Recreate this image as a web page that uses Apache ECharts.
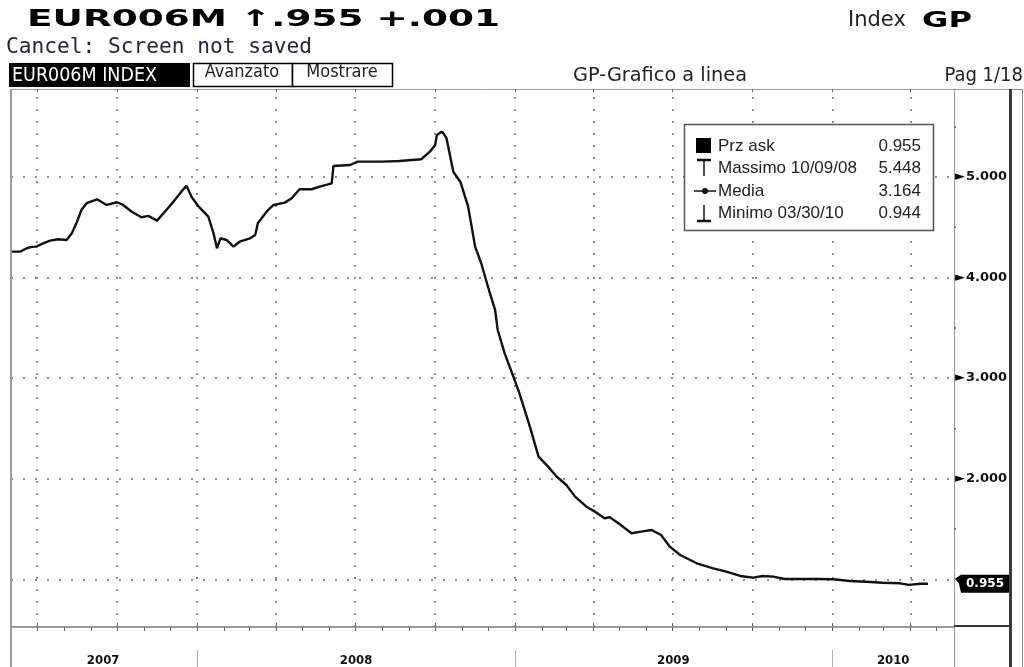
<!DOCTYPE html>
<html><head><meta charset="utf-8">
<script src="https://cdn.jsdelivr.net/npm/echarts@6/dist/echarts.min.js"></script>
<style>html,body{margin:0;padding:0;background:#fff}#c{width:1024px;height:667px}</style>
</head><body><div id="c"></div>
<script>
// ---------- data ----------
const dates = ['2007-06-01','2007-06-12','2007-06-19','2007-06-25','2007-06-30','2007-07-08','2007-07-16','2007-07-25','2007-08-04','2007-08-10','2007-08-16','2007-08-21','2007-08-27','2007-09-08','2007-09-19','2007-10-01','2007-10-08','2007-10-18','2007-10-29','2007-11-06','2007-11-16','2007-11-25','2007-12-05','2007-12-14','2007-12-20','2007-12-26','2008-01-03','2008-01-14','2008-01-20','2008-01-24','2008-01-28','2008-02-04','2008-02-12','2008-02-19','2008-03-02','2008-03-08','2008-03-11','2008-03-21','2008-03-29','2008-04-11','2008-04-19','2008-04-28','2008-05-12','2008-05-21','2008-06-04','2008-06-06','2008-06-25','2008-07-04','2008-08-02','2008-08-21','2008-09-15','2008-09-25','2008-10-01','2008-10-03','2008-10-09','2008-10-14','2008-10-22','2008-10-30','2008-11-08','2008-11-16','2008-11-23','2008-12-03','2008-12-09','2008-12-12','2008-12-20','2008-12-30','2009-01-06','2009-01-18','2009-01-28','2009-02-08','2009-02-18','2009-03-01','2009-03-11','2009-03-24','2009-04-03','2009-04-14','2009-04-20','2009-05-01','2009-05-15','2009-05-26','2009-06-07','2009-06-18','2009-06-28','2009-07-10','2009-07-29','2009-08-17','2009-09-01','2009-09-17','2009-10-02','2009-10-13','2009-10-25','2009-11-07','2009-11-25','2009-12-14','2010-01-02','2010-01-21','2010-02-09','2010-02-28','2010-03-20','2010-03-30','2010-04-12','2010-04-21'];
const values = [4.255,4.257,4.289,4.302,4.305,4.338,4.364,4.378,4.371,4.438,4.553,4.669,4.736,4.775,4.719,4.746,4.719,4.652,4.597,4.610,4.563,4.652,4.752,4.851,4.908,4.795,4.702,4.603,4.438,4.289,4.388,4.371,4.305,4.354,4.388,4.421,4.537,4.652,4.719,4.742,4.785,4.875,4.875,4.901,4.934,5.106,5.116,5.149,5.149,5.156,5.173,5.248,5.315,5.414,5.448,5.385,5.047,4.950,4.702,4.305,4.140,3.842,3.676,3.477,3.245,3.013,2.848,2.516,2.218,2.119,2.019,1.937,1.821,1.721,1.672,1.606,1.616,1.549,1.457,1.473,1.490,1.440,1.324,1.241,1.159,1.109,1.076,1.033,1.016,1.033,1.026,1.003,1.003,1.003,1.000,0.983,0.976,0.966,0.960,0.944,0.955,0.955];
const quarterLines = ['2007-07-01','2007-10-01','2008-01-01','2008-04-01','2008-07-01','2008-10-01','2009-01-01','2009-04-01','2009-07-01','2009-10-01','2010-01-01','2010-04-01'];
const yearLabels = ['2007','2008','2009','2010'];
const yearLabelDates = ['2007-09-15','2008-07-02','2009-07-02','2010-03-12'];
const yearBreaks = ['2008-01-01','2009-01-01','2010-01-01'];
const yGridValues = [1,2,3,4,5];
const yTickLabels = [2,3,4,5];
const yMinorTicks = [1.5,2.5,3.5,4.5,5.5];
const lastValue = 0.955;
const legendLabels = ['Prz ask','Massimo 10/09/08','Media','Minimo 03/30/10'];
const legendValues = ['0.955','5.448','3.164','0.944'];
const xStart = '2007-06-01', xEnd = '2010-05-21';
const yMin = 0.526, yMax = 5.871;

// ---------- helpers ----------
const ts = s => Date.parse(s + 'T00:00:00Z');
const monthTicks = [];
for (let y = 2007; y <= 2010; y++) for (let m = 1; m <= 12; m++) {
  const s = y + '-' + String(m).padStart(2,'0') + '-01';
  if (ts(s) > ts(xStart) && ts(s) < ts(xEnd)) monthTicks.push(ts(s));
}
const mctx = document.createElement('canvas').getContext('2d');
function fit(text, font, w){ mctx.font = font; return w / mctx.measureText(text).width; }
function txt(text, x, y, font, fill, align, w){
  const el = {type:'text', x:x, y:y, z:100, silent:true,
    style:{text:text, font:font, fill:fill, align:align||'left', textAlign:align||'left', verticalAlign:'middle', textVerticalAlign:'middle'}};
  if (w) el.scaleX = fit(text, font, w);
  return el;
}
function ln(x1,y1,x2,y2,color,w){
  return {type:'line', z:100, silent:true, shape:{x1:x1,y1:y1,x2:x2,y2:y2}, style:{stroke:color, lineWidth:w||1}};
}
function rc(x,y,w,h,fill,stroke,lw){
  return {type:'rect', z:100, silent:true, shape:{x:x,y:y,width:w,height:h}, style:{fill:fill, stroke:stroke||null, lineWidth:lw||0}};
}
const COND = '"DejaVu Sans Condensed","Liberation Sans Narrow","DejaVu Sans",sans-serif';
const SANS = '"Liberation Sans","Arial",sans-serif';

// ---------- graphic (header, frame, legend) ----------
const graphic = [
  txt('EUR006M \u2191.955 +.001', 27, 20, 'bold 23px "DejaVu Sans"', '#000', 'left', 473),
  txt('Index', 848, 21, '21px "DejaVu Sans"', '#222', 'left'),
  txt('GP', 922, 21, 'bold 22px "DejaVu Sans"', '#000', 'left', 50),
  txt('Cancel: Screen not saved', 6, 48, '21px "DejaVu Sans Mono",monospace', '#26263a', 'left', 306),
  rc(9, 63, 181, 24, '#000'),
  txt('EUR006M INDEX', 12, 75.5, '20px ' + COND, '#fff', 'left', 145),
  rc(193.5, 63.5, 99, 23, '#fff', '#000', 1.5),
  txt('Avanzato', 242, 72.5, '18px ' + COND, '#222', 'center'),
  rc(292.5, 63.5, 100, 23, '#fff', '#000', 1.5),
  txt('Mostrare', 342, 72.5, '18px ' + COND, '#222', 'center'),
  txt('GP-Grafico a linea', 573, 75.5, '20px ' + COND, '#222', 'left', 174),
  txt('Pag 1/18', 1023, 75.5, '20px ' + COND, '#222', 'right'),
  // frame
  ln(11, 89, 11, 667, '#9a9a9a', 2),
  ln(954, 89.5, 1010, 89.5, '#9a9a9a', 1),
  rc(1009, 89, 3, 578, '#3a3a3a'),
  ln(1022.5, 89, 1022.5, 667, '#8a8a8a', 1),
  ln(1012, 89.5, 1023, 89.5, '#8a8a8a', 1),
  ln(954, 626, 1010, 626, '#333', 2),
  ln(954.5, 627, 954.5, 667, '#9a9a9a', 1),
  // legend
  rc(684.5, 124.5, 249, 106, '#fff', '#555', 1.5),
  rc(696, 138, 15, 15, '#000'),
  ln(697, 160, 711, 160, '#111', 2.5),
  ln(704, 160, 704, 176, '#111', 1.5),
  ln(694, 191, 716, 191, '#111', 1.5),
  {type:'circle', z:101, silent:true, shape:{cx:705, cy:191, r:3}, style:{fill:'#111'}},
  ln(704, 205, 704, 221, '#111', 1.5),
  ln(697, 221, 711, 221, '#111', 2.5)
];
const legendRows = [146, 168.5, 191, 213.5];
legendLabels.forEach((l, i) => {
  graphic.push(txt(l, 718, legendRows[i], '17px ' + SANS, '#222', 'left'));
  graphic.push(txt(legendValues[i], 921, legendRows[i], '17px ' + SANS, '#222', 'right'));
});

// ---------- chart ----------
const chart = echarts.init(document.getElementById('c'), null, {renderer:'canvas'});
const xMin = ts(xStart), xMax = ts(xEnd);
const baseX = {type:'value', min:xMin, max:xMax, gridIndex:0, splitLine:{show:false}};
chart.setOption({
  animation:false,
  backgroundColor:'#fff',
  grid:{left:11, right:70, top:89, bottom:40, containLabel:false},
  xAxis:[
    Object.assign({}, baseX, {position:'bottom',
      axisLine:{show:true, lineStyle:{color:'#9a9a9a', width:2}},
      axisTick:{show:true, customValues:monthTicks, length:4, inside:false, lineStyle:{color:'#666', width:1}},
      axisLabel:{show:true, customValues:yearLabelDates.map(ts), margin:27,
        formatter:v => { const i = yearLabelDates.map(ts).indexOf(v); return i >= 0 ? yearLabels[i] : ''; },
        fontFamily:COND, fontWeight:'bold', fontSize:13, color:'#111'}}),
    Object.assign({}, baseX, {position:'bottom',
      axisLine:{show:false},
      axisTick:{show:true, customValues:quarterLines.map(ts), length:4, inside:true, lineStyle:{color:'#666', width:1}},
      axisLabel:{show:false}}),
    Object.assign({}, baseX, {position:'top',
      axisLine:{show:true, lineStyle:{color:'#9a9a9a', width:1}},
      axisTick:{show:true, customValues:quarterLines.map(ts), length:3, inside:true, lineStyle:{color:'#666', width:1}},
      axisLabel:{show:false}}),
    Object.assign({}, baseX, {position:'bottom', offset:23,
      axisLine:{show:false},
      axisTick:{show:true, customValues:yearBreaks.map(ts), length:17, inside:false, lineStyle:{color:'#b0b0b0', width:1}},
      axisLabel:{show:false}})
  ],
  yAxis:[{type:'value', position:'right', min:yMin, max:yMax, splitLine:{show:false},
    axisLine:{show:true, lineStyle:{color:'#9a9a9a', width:1}},
    axisTick:{show:true, customValues:yMinorTicks, length:2, lineStyle:{color:'#555', width:1.5}},
    axisLabel:{show:true, customValues:yTickLabels, margin:1,
      formatter:v => '{t|\u25BA}{v|' + Number(v).toFixed(3) + '}',
      rich:{t:{fontSize:13, color:'#000', padding:[0,1,0,0], fontFamily:'"DejaVu Sans"'},
            v:{fontSize:13, fontWeight:'bold', color:'#111', fontFamily:'"DejaVu Sans"'}}}}],
  graphic:graphic,
  series:[{
    type:'line', xAxisIndex:0, yAxisIndex:0,
    data:dates.map((d, i) => [ts(d), values[i]]),
    showSymbol:false, symbol:'none', clip:false,
    lineStyle:{color:'#111', width:2.4},
    z:5,
    markLine:{silent:true, symbol:['none','none'], animation:false, label:{show:false},
      lineStyle:{color:'#8c8c8c', width:2, type:[2,10]},
      data:[...yGridValues.map(v => ({yAxis:v})), ...quarterLines.map(d => ({xAxis:ts(d)}))]},
    markPoint:{silent:true, animation:false,
      data:[{coord:[xMax, lastValue], value:lastValue}],
      symbol:'path://M0,4 L6,0 L54,0 L54,18 L6,18 L4,9 Z', symbolSize:[54,18], symbolKeepAspect:false, symbolOffset:[28,0],
      itemStyle:{color:'#000'},
      label:{show:true, position:'inside', formatter:lastValue.toFixed(3), color:'#fff', fontWeight:'bold', fontSize:12, fontFamily:'"DejaVu Sans"', offset:[3,0]}}
  }]
});
</script></body></html>
